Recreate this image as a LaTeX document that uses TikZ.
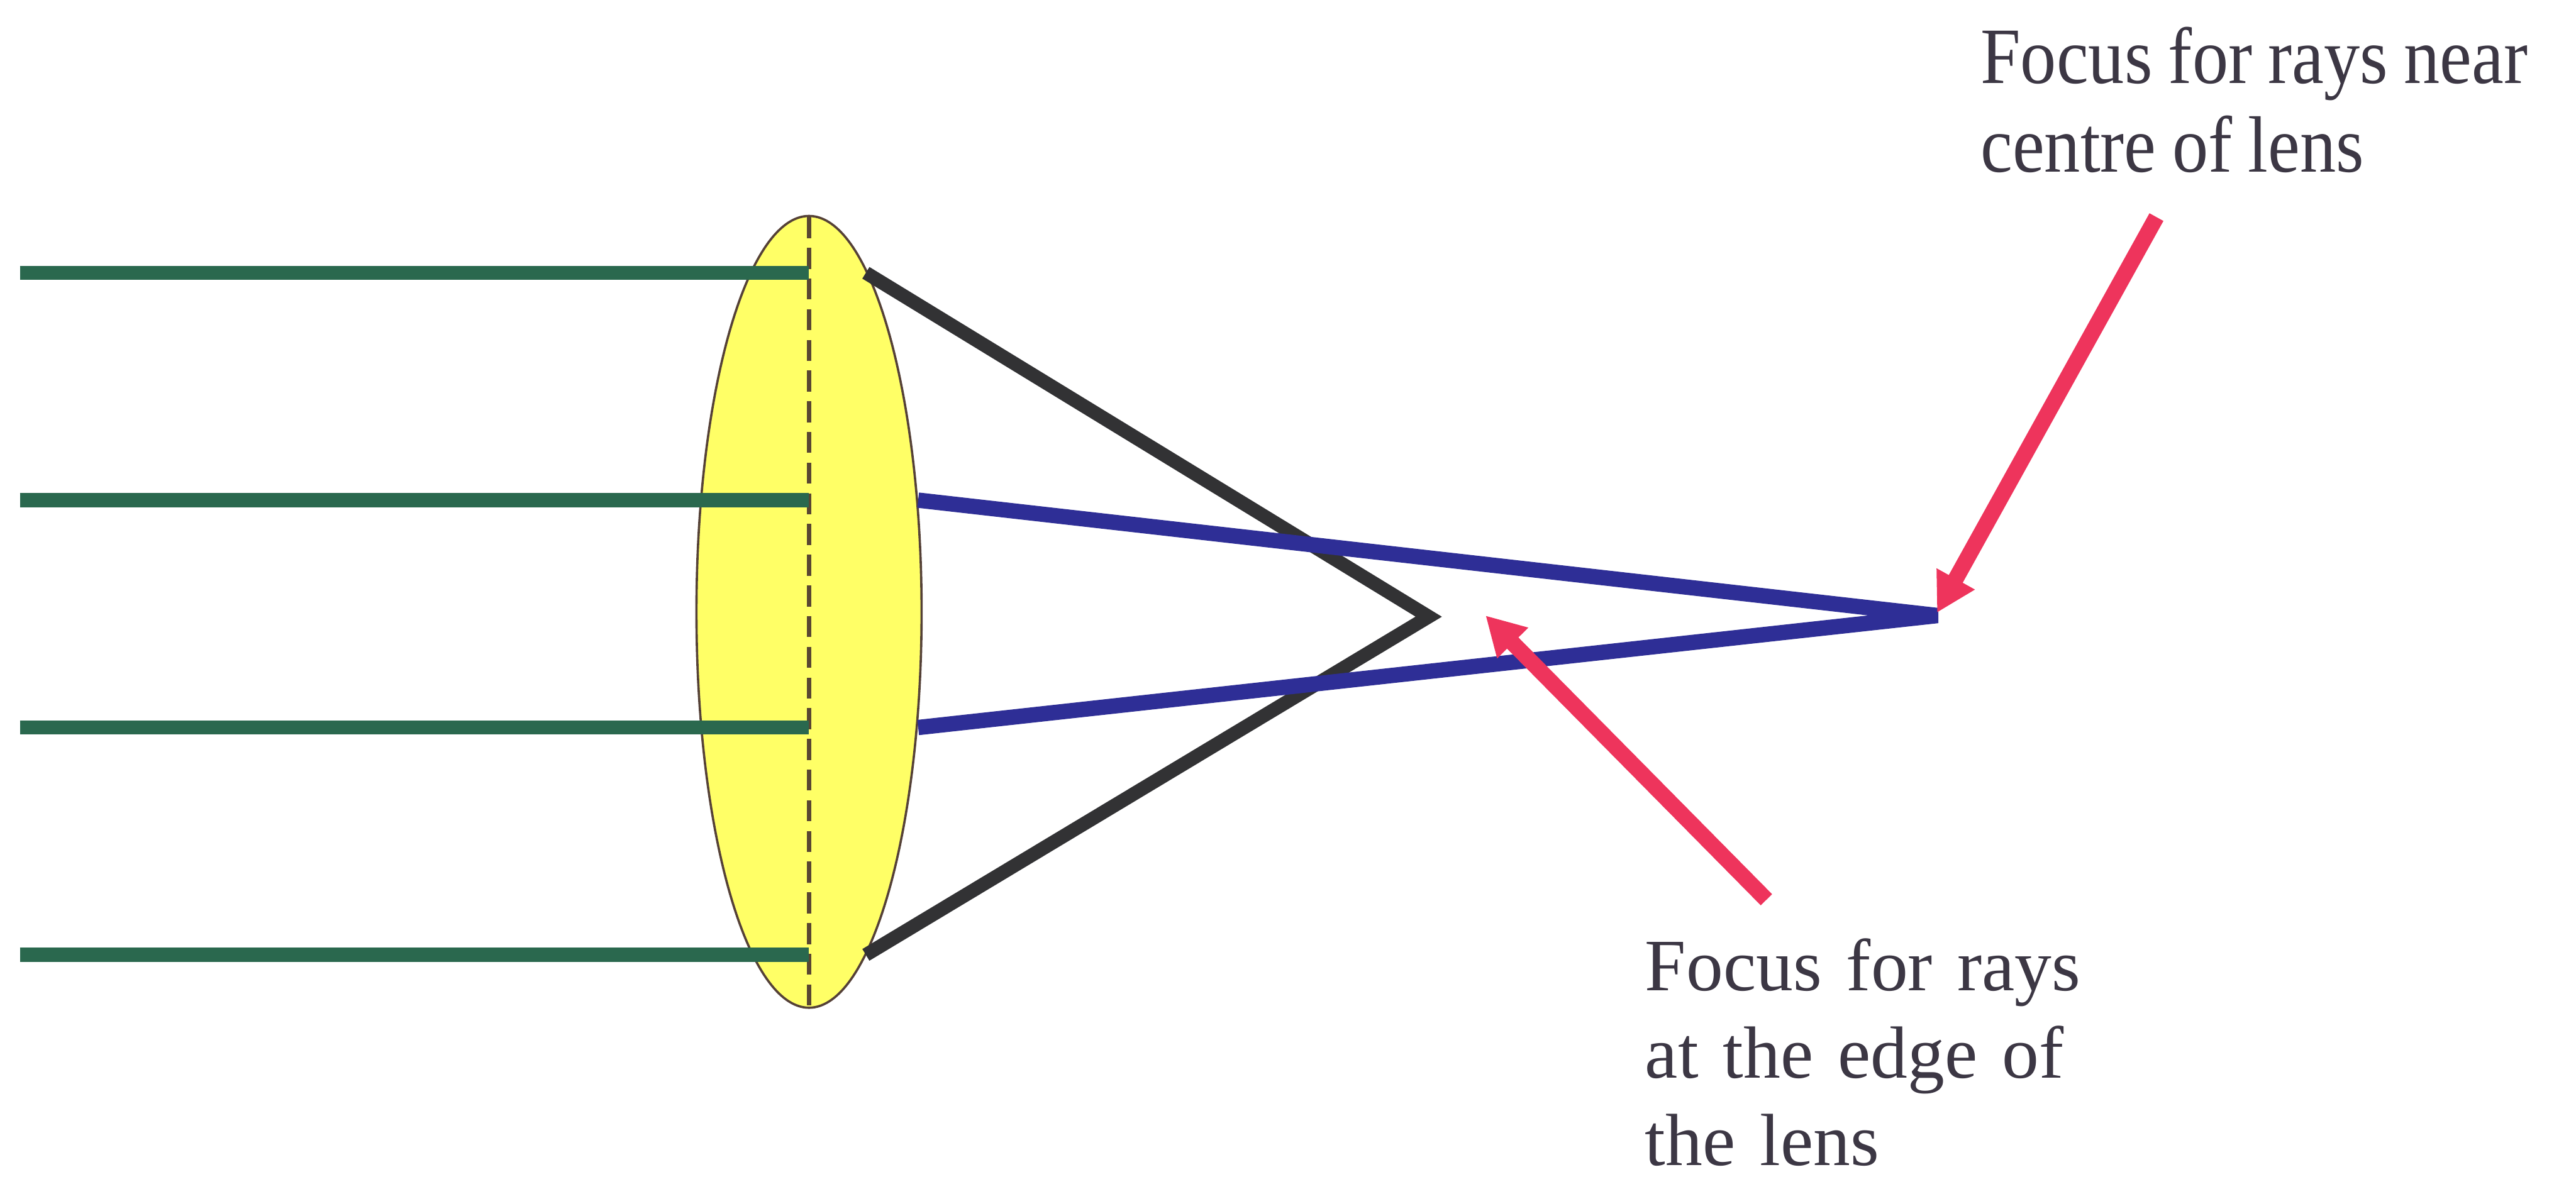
\documentclass[tikz,border=0pt]{standalone}
\usepackage{fontspec}
\setmainfont{Liberation Serif}
\newfontfamily\narrowserif[FakeStretch=0.9]{Liberation Serif}
\usetikzlibrary{arrows.meta}
\definecolor{raygreen}{RGB}{42,104,78}
\definecolor{rayblue}{RGB}{46,46,150}
\definecolor{rayblack}{RGB}{50,50,52}
\definecolor{lensyellow}{RGB}{255,255,102}
\definecolor{lensedge}{RGB}{85,65,55}
\definecolor{axisbrown}{RGB}{90,70,50}
\definecolor{pointerred}{RGB}{238,52,92}
\definecolor{labelgray}{RGB}{60,55,68}
\tikzset{
  greenray/.style={draw=raygreen, line width=0.25cm},
  blackray/.style={draw=rayblack, line width=0.24cm, line join=miter},
  blueray/.style={draw=rayblue, line width=0.27cm, line join=bevel},
  lensbody/.style={fill=lensyellow, draw=lensedge, line width=0.04cm},
  lensaxis/.style={draw=axisbrown, line width=0.08cm, dash pattern=on 0.37cm off 0.17cm},
  pointer/.style={draw=pointerred, line width=0.28cm, -{Triangle[length=6.8mm,width=7.2mm]}, fill=pointerred},
  labeltext/.style={text=labelgray, inner sep=0pt, align=left, anchor=base west}
}
\begin{document}
\begin{tikzpicture}
\useasboundingbox (0,0) rectangle (45.31,20.70);
\fill[white] (0,0) rectangle (45.31,20.70);
% lens
\coordinate (lens) at (14.23,9.935);
\draw[lensbody] (lens) ellipse [x radius=1.98, y radius=6.965];
\coordinate (axtop) at (14.23,16.88);
\coordinate (axbot) at (14.23,2.99);
\draw[lensaxis] (axtop) -- (axbot);
% incoming rays
\coordinate (g1s) at (0.35,15.90); \coordinate (g1e) at (14.23,15.90);
\coordinate (g2s) at (0.35,11.90); \coordinate (g2e) at (14.23,11.90);
\coordinate (g3s) at (0.35,7.90);  \coordinate (g3e) at (14.23,7.90);
\coordinate (g4s) at (0.35,3.90);  \coordinate (g4e) at (14.23,3.90);
\draw[greenray] (g1s) -- (g1e);
\draw[greenray] (g2s) -- (g2e);
\draw[greenray] (g3s) -- (g3e);
\draw[greenray] (g4s) -- (g4e);
% foci
\coordinate (fedge) at (25.13,9.85);
\coordinate (fcentre) at (34.08,9.87);
% edge rays
\coordinate (b1) at (15.23,15.90);
\coordinate (b4) at (15.23,3.90);
\draw[blackray] (b1) -- (fedge) -- (b4);
% central rays
\coordinate (u2) at (16.15,11.90);
\coordinate (u3) at (16.15,7.90);
\draw[blueray] (u2) -- (fcentre) -- (u3);
% labels
\node[labeltext, text width=11cm, font=\narrowserif\fontsize{40}{44.4}\selectfont] (ltop) at (34.83,19.23) {\spaceskip=0.2em plus 0.02em minus 0.02em\relax Focus for rays near\\centre of lens};
\node[labeltext, text width=9cm, font=\fontsize{37}{43.7}\selectfont] (lbot) at (28.93,3.27) {Focus for rays\\at the edge of\\the lens};
% pointers
\coordinate (p1s) at (37.93,16.88);
\coordinate (p1e) at (34.07,9.92);
\coordinate (p2s) at (31.07,4.87);
\coordinate (p2e) at (26.13,9.87);
\draw[pointer] (p1s) -- (p1e);
\draw[pointer] (p2s) -- (p2e);
\end{tikzpicture}
\end{document}
